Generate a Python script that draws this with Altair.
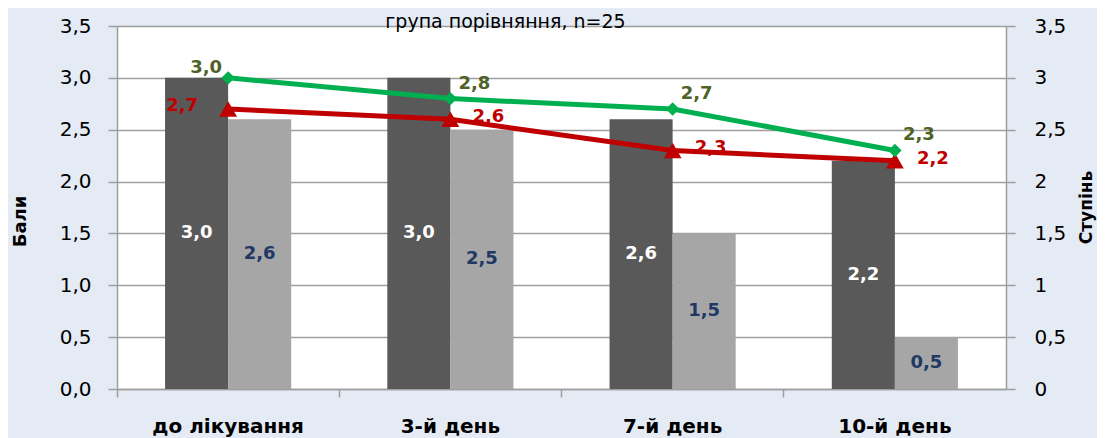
import altair as alt
import pandas as pd

categories = ["до лікування", "3-й день", "7-й день", "10-й день"]
bar_dark = [3.0, 3.0, 2.6, 2.2]
bar_light = [2.6, 2.5, 1.5, 0.5]
line_green = [3.0, 2.8, 2.7, 2.3]
line_red = [2.7, 2.6, 2.3, 2.2]
y_ticks = [0, 0.5, 1.0, 1.5, 2.0, 2.5, 3.0, 3.5]
chart_title = "група порівняння, n=25"

bars_df = pd.DataFrame({
    "cat": categories * 2,
    "series": ["dark"] * 4 + ["light"] * 4,
    "value": bar_dark + bar_light,
})
lines_df = pd.DataFrame({
    "cat": categories * 2,
    "series": ["green"] * 4 + ["red"] * 4,
    "value": line_green + line_red,
    "idx": list(range(4)) * 2,
})

FONT = "DejaVu Sans"
GRID = "#9E9E9E"
FMT1 = "replace(format(datum.value, '.1f'), '.', ',')"

x_scale = alt.Scale(paddingInner=0, paddingOuter=0)
x_enc = alt.X(
    "cat:N", sort=categories, scale=x_scale,
    axis=alt.Axis(title=None, bandPosition=0, labelAngle=0, labelFont=FONT,
                  labelFontSize=20, labelFontWeight="bold", labelColor="black",
                  labelPadding=19, tickSize=8, tickColor=GRID, tickWidth=1.5,
                  domainColor=GRID, domainWidth=1.5, grid=False),
)
x_plain = alt.X("cat:N", sort=categories, scale=x_scale, title=None)
xoff = alt.XOffset("series:N", scale=alt.Scale(paddingInner=0, paddingOuter=0.762))

y_scale = alt.Scale(domain=[0, 3.5], nice=False, zero=True)

y_left = alt.Y(
    "value:Q", scale=y_scale,
    axis=alt.Axis(values=y_ticks, title="Бали", orient="left", labelExpr=FMT1,
                  labelFont=FONT, labelFontSize=20, labelColor="black", labelPadding=17,
                  tickSize=9, tickColor=GRID, tickWidth=1.5, domainColor=GRID, domainWidth=1.5,
                  grid=True, gridColor=GRID, gridWidth=1.5,
                  titleFont=FONT, titleFontSize=18, titleFontWeight="bold", titleColor="black",
                  titleX=-97, titleY=195, titleAngle=270, titleAlign="center", titleBaseline="middle"),
)
y_right = alt.Y(
    "value:Q", scale=y_scale,
    axis=alt.Axis(values=y_ticks, title="Ступінь", orient="right",
                  labelExpr="replace(format(datum.value, '.1~f'), '.', ',')",
                  labelFont=FONT, labelFontSize=20, labelColor="black", labelPadding=19,
                  tickSize=9, tickColor=GRID, tickWidth=1.5, domainColor=GRID, domainWidth=1.5,
                  grid=False,
                  titleFont=FONT, titleFontSize=17, titleFontWeight="bold", titleColor="black",
                  titleX=80, titleY=181, titleAngle=270, titleAlign="center", titleBaseline="middle"),
)

bars = alt.Chart(bars_df).mark_bar().encode(
    x=x_enc, xOffset=xoff, y=y_left,
    color=alt.Color("series:N", scale=alt.Scale(domain=["dark", "light"], range=["#595959", "#A6A6A6"]), legend=None),
)

def bar_text(series, color):
    return alt.Chart(bars_df).transform_filter(
        alt.datum.series == series
    ).transform_calculate(
        mid="datum.value / 2",
        lbl=FMT1,
    ).mark_text(font=FONT, fontSize=18, fontWeight="bold", color=color).encode(
        x=x_plain, xOffset=xoff,
        y=alt.Y("mid:Q", scale=y_scale, title="Бали"),
        text="lbl:N",
    )

left = alt.layer(bars, bar_text("dark", "white"), bar_text("light", "#1F3864"))

def line_layers(series, color, shape, size, lab_color, first_dx, first_dy, dx, dy):
    base = alt.Chart(lines_df).transform_filter(alt.datum.series == series)
    y_plain = alt.Y("value:Q", scale=y_scale, title="Ступінь")
    ln = base.mark_line(color=color, strokeWidth=5).encode(x=x_plain, y=y_plain)
    pt = base.mark_point(shape=shape, filled=True, size=size, color=color, opacity=1).encode(
        x=x_plain, y=y_plain)
    lbl = base.transform_calculate(lbl=FMT1)
    t0 = lbl.transform_filter(alt.datum.idx == 0).mark_text(
        font=FONT, fontSize=18, fontWeight="bold", color=lab_color, align="right",
        dx=first_dx, dy=first_dy).encode(x=x_plain, y=y_plain, text="lbl:N")
    t1 = lbl.transform_filter(alt.datum.idx > 0).mark_text(
        font=FONT, fontSize=18, fontWeight="bold", color=lab_color, align="left",
        dx=dx, dy=dy).encode(x=x_plain, y=y_plain, text="lbl:N")
    return [ln, pt, t0, t1]

red_layers = line_layers("red", "#C00000", "triangle-up", 320, "#C00000", -30, -3, 22, -2)
green_layers = line_layers("green", "#00B050", "diamond", 180, "#4F6228", -6, -10, 8, -15)
red_layers[0] = red_layers[0].encode(y=y_right)

right = alt.layer(*red_layers, *green_layers)

chart = alt.layer(left, right).resolve_scale(y="independent").properties(
    width=889, height=363,
    autosize=alt.AutoSizeParams(type="none"),
    padding={"left": 109, "top": 18, "right": 91, "bottom": 49},
    background="#E4EBF5",
    title=alt.TitleParams(chart_title, font=FONT, fontSize=19, fontWeight="normal",
                          color="black", anchor="middle", frame="group", dx=-56,
                          offset=-31, baseline="alphabetic"),
).configure_view(fill="white", strokeWidth=0)

chart.save("out.html", embed_options={"renderer": "svg", "actions": False})
